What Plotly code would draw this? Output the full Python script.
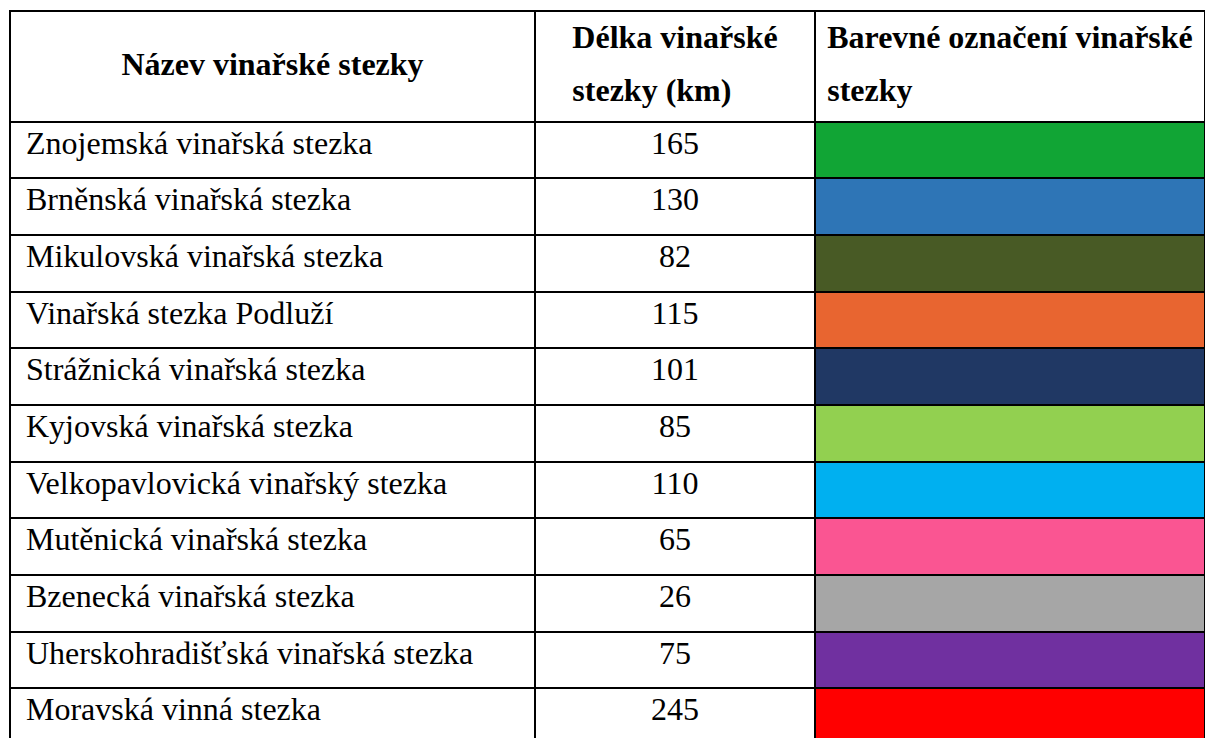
import plotly.graph_objects as go

headers = ["Název vinařské stezky", "Délka vinařské", "stezky (km)",
           "Barevné označení vinařské", "stezky"]
names = [
    "Znojemská vinařská stezka",
    "Brněnská vinařská stezka",
    "Mikulovská vinařská stezka",
    "Vinařská stezka Podluží",
    "Strážnická vinařská stezka",
    "Kyjovská vinařská stezka",
    "Velkopavlovická vinařský stezka",
    "Mutěnická vinařská stezka",
    "Bzenecká vinařská stezka",
    "Uherskohradišťská vinařská stezka",
    "Moravská vinná stezka",
]
lengths = [165, 130, 82, 115, 101, 85, 110, 65, 26, 75, 245]
colors = ["#11A535", "#2E75B6", "#485A25", "#E86530", "#203864", "#92D050",
          "#00B0F0", "#FA5592", "#A6A6A6", "#7030A0", "#FF0000"]

W, H = 1205, 738
n = len(names)
SERIF = "Liberation Serif, Times New Roman, serif"
NB = "\u00a0"


def big(t):
    return ("<span style='font-size:32px;baseline-shift:3px'><b>" + t
            + "</b></span>")


BR = "<br>"
header_vals = [
    big(NB) + BR * 2 + big(headers[0]),
    big(headers[1]) + BR * 4 + big(headers[2]),
    big(headers[3]) + BR * 4 + big(headers[4]),
]

fig = go.Figure(go.Table(
    domain=dict(x=[10 / W, 1], y=[0, 1 - 11 / H]),
    columnwidth=[525, 280, 390],
    header=dict(
        values=header_vals,
        font=dict(family=SERIF, size=10.2, color="black"),
        align="center",
        height=110.7,
        fill=dict(color="white"),
        line=dict(color="black", width=2),
    ),
    cells=dict(
        values=[[NB + s for s in names], [str(v) for v in lengths], [""] * n],
        font=dict(family=SERIF, size=32, color="black"),
        align=["left", "center", "center"],
        height=56.66,
        fill=dict(color=[["white"] * n, ["white"] * n, colors]),
        line=dict(color="black", width=2),
    ),
))
fig.update_layout(width=W, height=H, margin=dict(l=0, r=0, t=0, b=0),
                  paper_bgcolor="white")
fig.write_html("out.html", config={"displayModeBar": False},
               post_script="document.body.style.margin='0';"
                           "document.body.style.overflow='hidden';")
